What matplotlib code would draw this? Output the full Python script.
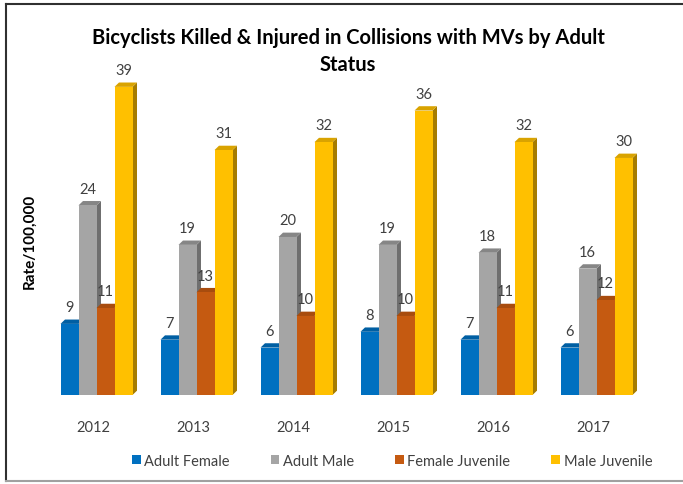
import matplotlib
matplotlib.use("Agg")
import matplotlib.pyplot as plt
from matplotlib.patches import Polygon, Patch
import numpy as np

years = ["2012", "2013", "2014", "2015", "2016", "2017"]
series_names = ["Adult Female", "Adult Male", "Female Juvenile", "Male Juvenile"]
adult_female = [9, 7, 6, 8, 7, 6]
adult_male = [24, 19, 20, 19, 18, 16]
female_juvenile = [11, 13, 10, 10, 11, 12]
male_juvenile = [39, 31, 32, 36, 32, 30]

front_colors = ["#0070C0", "#A5A5A5", "#C55A11", "#FFC000"]
side_colors = ["#00518C", "#6F6F6F", "#8A3F0C", "#A67C00"]
top_colors = ["#005FA3", "#868686", "#A84C0E", "#D9A300"]

plt.rcParams['font.family'] = ['Lato', 'DejaVu Sans']

fig = plt.figure(figsize=(6.83, 4.85), dpi=100)
W, H = 683, 485
ax = fig.add_axes([46.5 / W, 1 - 396 / H, 600 / W, 320 / H])

x = np.arange(len(years))
w = 0.18
dx = 0.045
dy = 0.55
data = [adult_female, adult_male, female_juvenile, male_juvenile]

for i, vals in enumerate(data):
    off = (i - 1.5) * w
    for j, v in enumerate(vals):
        x0 = x[j] + off - w / 2
        x1 = x0 + w
        z = 2 + i * 3
        side = Polygon([(x1, 0), (x1 + dx, dy), (x1 + dx, v + dy), (x1, v)],
                       closed=True, facecolor=side_colors[i], edgecolor='none', zorder=z)
        top = Polygon([(x0, v), (x0 + dx, v + dy), (x1 + dx, v + dy), (x1, v)],
                      closed=True, facecolor=top_colors[i], edgecolor='none', zorder=z)
        ax.add_patch(side)
        ax.add_patch(top)
    ax.bar(x + off, vals, width=w, color=front_colors[i], zorder=2 + i * 3 + 1, linewidth=0)
    for j, v in enumerate(vals):
        ax.annotate(str(v), (x[j] + off, v), xytext=(0, 7), textcoords='offset points',
                    ha='center', va='bottom', fontsize=10.5, color='#404040', zorder=20)

ax.set_xlim(-0.5, len(years) - 0.5)
ax.set_ylim(0, 40.5)
ax.set_xticks(x - 0.035)
ax.set_xticklabels(years, fontsize=10.5, color='#404040')
ax.tick_params(axis='x', length=0, pad=18)
ax.set_yticks([])
for s in ax.spines.values():
    s.set_visible(False)

fig.text(30 / W, 1 - 241 / H, "Rate/100,000", rotation=90, ha='center', va='center',
         fontsize=11, fontweight='bold', color='#000000')
fig.text(348 / W, 1 - 38 / H, "Bicyclists Killed & Injured in Collisions with MVs by Adult",
         ha='center', va='center', fontsize=14.5, fontweight='bold', color='#000000')
fig.text(348 / W, 1 - 65 / H, "Status",
         ha='center', va='center', fontsize=14.5, fontweight='bold', color='#000000')

handles = [Patch(facecolor=c, edgecolor='none') for c in front_colors]
fig.legend(handles, series_names, loc='center', bbox_to_anchor=(392 / W, 1 - 462 / H),
           ncol=4, frameon=False, fontsize=10.5, handlelength=0.6, handleheight=0.6,
           handletextpad=0.25, columnspacing=2.8, labelcolor='#404040')

# outer frame
fig.add_artist(plt.Line2D([6 / W, 6 / W], [1 - 482 / H, 1 - 5 / H], transform=fig.transFigure,
                          color='#303030', linewidth=1.5))
fig.add_artist(plt.Line2D([6 / W, 1], [1 - 5 / H, 1 - 5 / H], transform=fig.transFigure,
                          color='#303030', linewidth=1.5))
fig.add_artist(plt.Line2D([6 / W, 1], [1 - 482 / H, 1 - 482 / H], transform=fig.transFigure,
                          color='#A0A0A0', linewidth=1.5))

fig.savefig("out.png", dpi=100)
